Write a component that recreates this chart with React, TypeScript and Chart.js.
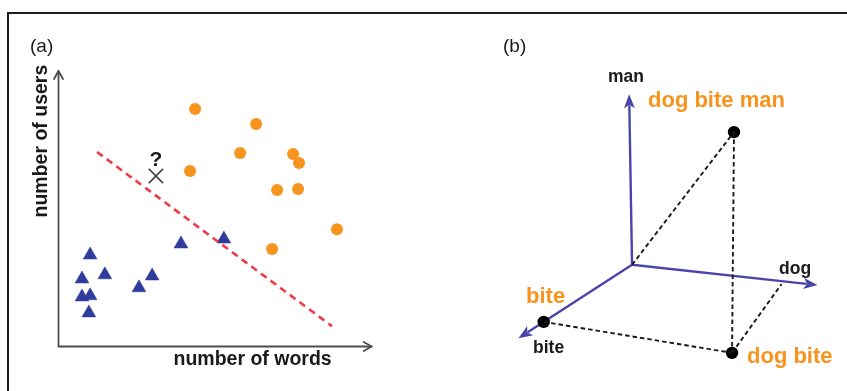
import React, { useEffect, useRef } from "react";
import { Chart, registerables } from "chart.js";

Chart.register(...registerables);

// ---------- Panel (a): scatter of two classes ----------
const orangeX = [4.36, 6.31, 5.8, 7.49, 7.68, 4.2, 6.98, 7.65, 8.89, 6.82];
const orangeY = [8.62, 8.08, 7.02, 6.99, 6.66, 6.37, 5.68, 5.72, 4.26, 3.54];
const blueX = [1.01, 0.75, 1.48, 0.75, 1.01, 0.97, 2.57, 2.99, 3.91, 5.28];
const blueY = [3.32, 2.45, 2.6, 1.8, 1.84, 1.22, 2.13, 2.56, 3.72, 3.9];
const unknownX = [3.11];
const unknownY = [6.19];
const boundaryX = [1.23, 8.73];
const boundaryY = [7.06, 0.74];
const axisTitleX = "number of words";
const axisTitleY = "number of users";

// ---------- Panel (b): word vectors in dog / bite / man space ----------
const originB = [49.65, 31.71];
const axisNames = ["man", "dog", "bite"];
const axisTipX = [48.95, 94.38, 22.25];
const axisTipY = [76.73, 26.34, 12.28];
const vectorNames = ["bite", "dog bite", "dog bite man"];
const vectorX = [28.34, 73.77, 74.24];
const vectorY = [16.62, 8.44, 66.75];
const dogFootX = 85.71;
const dogFootY = 26.6;

const ORANGE = "#f7941d";
const BLUE_TRI = "#2f3c9c";
const BLUE_AXIS = "#4a45a8";
const RED = "#ee3b47";
const FONT = "'Liberation Sans', Arial, Helvetica, sans-serif";

const zip = (xs: number[], ys: number[]) => xs.map((x, i) => ({ x, y: ys[i] }));

function PanelA() {
  const ref = useRef<HTMLCanvasElement>(null);
  useEffect(() => {
    const axesPlugin = {
      id: "axesA",
      beforeDatasetsDraw(chart: any) {
        const { ctx, scales } = chart;
        const sx = scales.x, sy = scales.y;
        const x0 = sx.getPixelForValue(0), y0 = sy.getPixelForValue(0);
        const x1 = sx.getPixelForValue(10), y1 = sy.getPixelForValue(10);
        ctx.save();
        ctx.strokeStyle = "#4d4d4d";
        ctx.lineWidth = 1.8;
        ctx.lineCap = "round";
        ctx.lineJoin = "round";
        ctx.beginPath();
        ctx.moveTo(x0, y1);
        ctx.lineTo(x0, y0);
        ctx.lineTo(x1, y0);
        ctx.stroke();
        // open arrowheads
        ctx.beginPath();
        ctx.moveTo(x0 - 4.5, y1 + 8);
        ctx.lineTo(x0, y1);
        ctx.lineTo(x0 + 4.5, y1 + 8);
        ctx.moveTo(x1 - 8, y0 - 4.5);
        ctx.lineTo(x1, y0);
        ctx.lineTo(x1 - 8, y0 + 4.5);
        ctx.stroke();
        // texts
        ctx.fillStyle = "#1a1a1a";
        ctx.font = `19px ${FONT}`;
        ctx.textAlign = "left";
        ctx.textBaseline = "alphabetic";
        ctx.fillText("(a)", 30, 52);
        ctx.font = `bold 19.5px ${FONT}`;
        ctx.fillText(axisTitleX, x0 + 115, y0 + 18.5);
        ctx.save();
        ctx.translate(x0 - 11.5, y0 - 129);
        ctx.rotate(-Math.PI / 2);
        ctx.fillText(axisTitleY, 0, 0);
        ctx.restore();
        const qx = sx.getPixelForValue(unknownX[0]);
        const qy = sy.getPixelForValue(unknownY[0]);
        ctx.textAlign = "center";
        ctx.font = `bold 21px ${FONT}`;
        ctx.fillText("?", qx, qy - 10);
        ctx.restore();
      },
    };
    const chart = new Chart(ref.current!, {
      type: "scatter",
      data: {
        datasets: [
          {
            data: zip(boundaryX, boundaryY),
            showLine: true,
            borderColor: RED,
            borderWidth: 2.6,
            borderDash: [7, 5],
            pointRadius: 0,
          },
          {
            data: zip(orangeX, orangeY),
            backgroundColor: ORANGE,
            borderColor: ORANGE,
            borderWidth: 0,
            pointRadius: 6,
          },
          {
            data: zip(blueX, blueY),
            pointStyle: "triangle",
            backgroundColor: BLUE_TRI,
            borderColor: BLUE_TRI,
            borderWidth: 0.5,
            pointRadius: 8,
          },
          {
            data: zip(unknownX, unknownY),
            pointStyle: "crossRot",
            borderColor: "#4a4a4a",
            borderWidth: 1.8,
            pointRadius: 10,
          },
        ],
      },
      options: {
        responsive: false,
        animation: false,
        layout: { padding: { left: 58.5, right: 48.3, top: 71, bottom: 44.5 } },
        scales: {
          x: { type: "linear", min: 0, max: 10, display: false },
          y: { type: "linear", min: 0, max: 10, display: false },
        },
        plugins: { legend: { display: false }, tooltip: { enabled: false } },
      },
      plugins: [axesPlugin],
    });
    return () => chart.destroy();
  }, []);
  return (
    <canvas
      ref={ref}
      width={420}
      height={391}
      style={{ position: "absolute", left: 0, top: 0, width: 420, height: 391 }}
    />
  );
}

function PanelB() {
  const ref = useRef<HTMLCanvasElement>(null);
  useEffect(() => {
    const plugin = {
      id: "axesB",
      beforeDatasetsDraw(chart: any) {
        const { ctx, scales } = chart;
        const sx = scales.x, sy = scales.y;
        const ox = sx.getPixelForValue(originB[0]);
        const oy = sy.getPixelForValue(originB[1]);
        ctx.save();
        ctx.strokeStyle = BLUE_AXIS;
        ctx.fillStyle = BLUE_AXIS;
        ctx.lineWidth = 2.4;
        axisNames.forEach((_, i) => {
          const tx = sx.getPixelForValue(axisTipX[i]);
          const ty = sy.getPixelForValue(axisTipY[i]);
          const ang = Math.atan2(ty - oy, tx - ox);
          const len = 14, half = 5.5;
          const bx = tx - Math.cos(ang) * len;
          const by = ty - Math.sin(ang) * len;
          ctx.beginPath();
          ctx.moveTo(ox, oy);
          ctx.lineTo(bx + Math.cos(ang) * 3, by + Math.sin(ang) * 3);
          ctx.stroke();
          ctx.beginPath();
          ctx.moveTo(tx, ty);
          ctx.lineTo(bx - Math.sin(ang) * half, by + Math.cos(ang) * half);
          ctx.lineTo(bx + Math.cos(ang) * 3.5, by + Math.sin(ang) * 3.5);
          ctx.lineTo(bx + Math.sin(ang) * half, by - Math.cos(ang) * half);
          ctx.closePath();
          ctx.fill();
        });
        ctx.restore();
      },
      afterDatasetsDraw(chart: any) {
        const { ctx } = chart;
        ctx.save();
        ctx.textAlign = "left";
        ctx.textBaseline = "alphabetic";
        ctx.fillStyle = "#1a1a1a";
        ctx.font = `19px ${FONT}`;
        ctx.fillText("(b)", 83, 52);
        ctx.font = `bold 17.5px ${FONT}`;
        ctx.fillText(axisNames[0], 188, 82);
        ctx.fillText(axisNames[1], 359, 274);
        ctx.fillText(vectorNames[0], 113, 353);
        ctx.fillStyle = ORANGE;
        ctx.font = `bold 22px ${FONT}`;
        ctx.fillText(vectorNames[2], 228, 107);
        ctx.fillText(vectorNames[0], 106, 303);
        ctx.fillText(vectorNames[1], 327, 363);
        ctx.restore();
      },
    };
    const dashed = (xs: number[], ys: number[]) => ({
      data: zip(xs, ys),
      showLine: true,
      borderColor: "#1a1a1a",
      borderWidth: 1.9,
      borderDash: [4.5, 3],
      pointRadius: 0,
    });
    const chart = new Chart(ref.current!, {
      type: "scatter",
      data: {
        datasets: [
          dashed([originB[0], vectorX[2]], [originB[1], vectorY[2]]),
          dashed([vectorX[2], vectorX[1]], [vectorY[2], vectorY[1]]),
          dashed([vectorX[0], vectorX[1]], [vectorY[0], vectorY[1]]),
          dashed([vectorX[1], dogFootX], [vectorY[1], dogFootY]),
          {
            data: zip(vectorX, vectorY),
            backgroundColor: "#000",
            borderColor: "#000",
            borderWidth: 0,
            pointRadius: 6.2,
          },
        ],
      },
      options: {
        responsive: false,
        animation: false,
        layout: { padding: 0 },
        scales: {
          x: { type: "linear", min: 0, max: 100, display: false },
          y: { type: "linear", min: 0, max: 100, display: false },
        },
        plugins: { legend: { display: false }, tooltip: { enabled: false } },
      },
      plugins: [plugin],
    });
    return () => chart.destroy();
  }, []);
  return (
    <canvas
      ref={ref}
      width={427}
      height={391}
      style={{ position: "absolute", left: 420, top: 0, width: 427, height: 391 }}
    />
  );
}

export default function App() {
  return (
    <div
      style={{
        position: "absolute",
        left: 0,
        top: 0,
        width: 847,
        height: 391,
        background: "#fff",
        overflow: "hidden",
      }}
    >
      <PanelA />
      <PanelB />
      <div style={{ position: "absolute", left: 7, top: 12, width: 840, height: 2, background: "#1c1c1c" }} />
      <div style={{ position: "absolute", left: 7, top: 12, width: 2, height: 379, background: "#1c1c1c" }} />
    </div>
  );
}
